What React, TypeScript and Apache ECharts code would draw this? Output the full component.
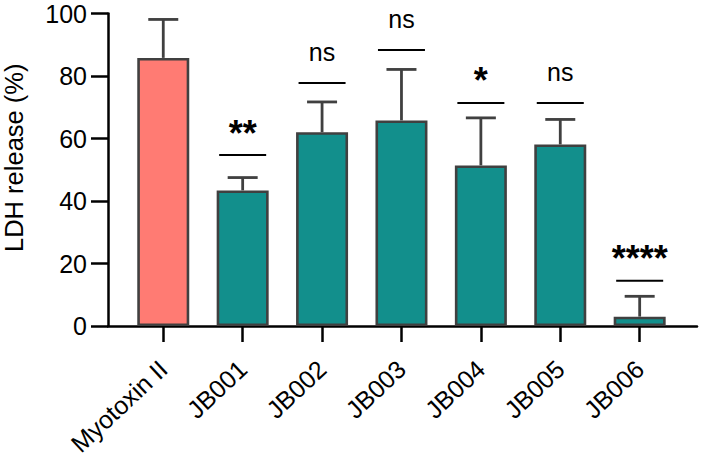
import React, { useEffect, useRef } from "react";
import * as echarts from "echarts";

const categories = ["Myotoxin II", "JB001", "JB002", "JB003", "JB004", "JB005", "JB006"];
const means = [85.8, 43.4, 62.0, 65.8, 51.4, 58.1, 3.0];
const errors = [12.3, 4.1, 9.7, 16.3, 15.2, 8.0, 6.5];
const sigLabels = ["", "**", "ns", "ns", "*", "ns", "****"];
const sigLevels = [0, 54.7, 77.8, 88.3, 71.4, 71.4, 14.5];
const barColors = ["#FF7B73", "#128F8C", "#128F8C", "#128F8C", "#128F8C", "#128F8C", "#128F8C"];

const FONT = "'Liberation Sans', Arial, Helvetica, sans-serif";

export default function App() {
  const ref = useRef<HTMLDivElement>(null);
  useEffect(() => {
    if (!ref.current) return;
    const chart = echarts.init(ref.current, null, { renderer: "svg" });
    const idx = categories.map((_, i) => i);
    const sigItems = idx.filter((i) => sigLabels[i] !== "");
    chart.setOption({
      animation: false,
      backgroundColor: "#ffffff",
      textStyle: { fontFamily: FONT },
      grid: { left: 108, right: 4, top: 13.5, bottom: 135, containLabel: false, outerBoundsMode: "none" },
      xAxis: {
        type: "value",
        min: -0.696,
        max: 6.722,
        splitLine: { show: false },
        axisLine: { show: true, onZero: false, lineStyle: { color: "#000", width: 2.5 } },
        axisTick: { show: true, customValues: idx, length: 16, lineStyle: { color: "#000", width: 2.5 } },
        axisLabel: {
          customValues: idx,
          rotate: 43,
          margin: 39,
          fontSize: 25,
          color: "#000",
          fontFamily: FONT,
          formatter: (v: number) => categories[Math.round(v)] ?? "",
        },
      },
      yAxis: {
        type: "value",
        min: 0,
        max: 100,
        interval: 20,
        name: "LDH release (%)",
        nameLocation: "middle",
        nameGap: 81,
        nameTextStyle: { fontSize: 25.5, color: "#000", fontFamily: FONT, padding: [0, 0, 0, 24] },
        splitLine: { show: false },
        axisLine: { show: true, onZero: false, lineStyle: { color: "#000", width: 2.5 } },
        axisTick: { show: true, length: 17, lineStyle: { color: "#000", width: 2.5 } },
        axisLabel: { fontSize: 25, color: "#000", margin: 21, fontFamily: FONT },
      },
      series: [
        {
          type: "custom",
          z: 1,
          data: means.map((m, i) => [i, m, errors[i]]),
          renderItem: (params: any, api: any) => {
            const x = api.value(0);
            const m = api.value(1);
            const e = api.value(2);
            const p0 = api.coord([x, m]);
            const p1 = api.coord([x, m + e]);
            const style = { stroke: "#404040", lineWidth: 2.8, fill: null };
            return {
              type: "group",
              children: [
                { type: "line", shape: { x1: p0[0], y1: p0[1], x2: p1[0], y2: p1[1] }, style },
                { type: "line", shape: { x1: p1[0] - 15, y1: p1[1], x2: p1[0] + 15, y2: p1[1] }, style },
              ],
            };
          },
        },
        {
          type: "bar",
          z: 2,
          barWidth: 52,
          data: means.map((m, i) => ({
            value: [i, m],
            itemStyle: { color: barColors[i], borderColor: "#404040", borderWidth: 2.6 },
          })),
        },
        {
          type: "custom",
          z: 3,
          data: sigItems.map((i) => [i, sigLevels[i]]),
          renderItem: (params: any, api: any) => {
            const i = sigItems[params.dataIndex];
            const p = api.coord([api.value(0), api.value(1)]);
            const label = sigLabels[i];
            const isStar = label.indexOf("*") >= 0;
            return {
              type: "group",
              children: [
                {
                  type: "line",
                  shape: { x1: p[0] - 23.5, y1: p[1], x2: p[0] + 23.5, y2: p[1] },
                  style: { stroke: "#000", lineWidth: 2 },
                },
                {
                  type: "text",
                  x: p[0],
                  y: isStar ? p[1] - 22 : p[1] - 31,
                  style: {
                    text: label,
                    fill: "#000",
                    fontSize: isStar ? 36 : 25,
                    fontWeight: isStar ? "bold" : "normal",
                    fontFamily: FONT,
                    align: "center",
                    verticalAlign: "middle",
                  },
                },
              ],
            };
          },
        },
      ],
    });
    return () => chart.dispose();
  }, []);
  return (
    <div
      ref={ref}
      style={{ position: "fixed", left: 0, top: 0, width: 701, height: 461, background: "#fff" }}
    />
  );
}
